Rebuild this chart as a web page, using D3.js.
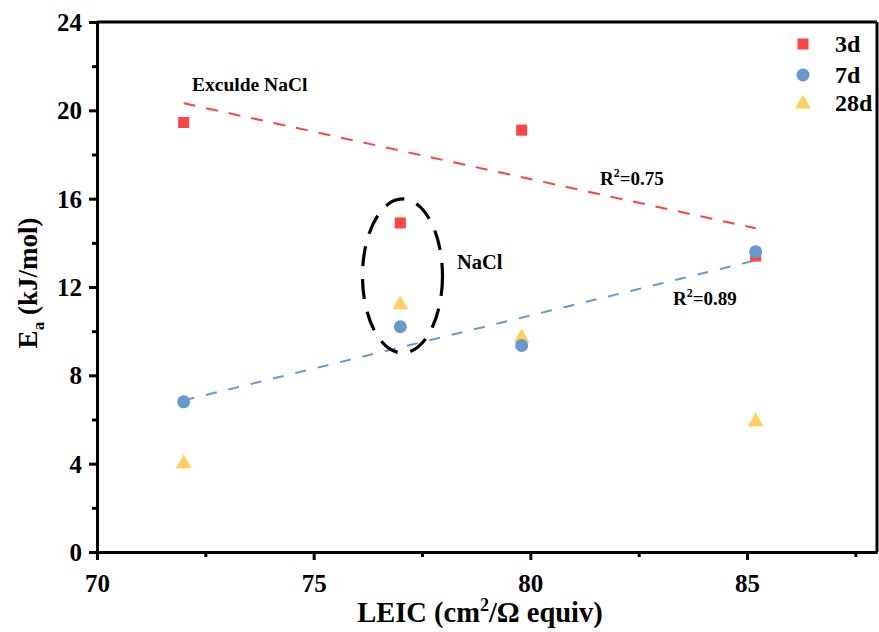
<!DOCTYPE html>
<html>
<head>
<meta charset="utf-8">
<script src="https://cdn.jsdelivr.net/npm/d3@7"></script>
<style>
  html, body { margin: 0; padding: 0; background: #fff; }
  svg { display: block; }
  svg text { font-family: "Liberation Serif", "Times New Roman", serif !important; font-weight: bold; fill: #000; }
</style>
</head>
<body>
<svg id="chart" width="879" height="632"></svg>
<script>
// LEIC values (cm²/Ω equiv) for the four mixes
const leic = [72, 77, 79.8, 85.2];
// Activation energy Ea (kJ/mol) at each curing age
const ea3d  = [19.45, 14.9, 19.1, 13.4];
const ea7d  = [6.8, 10.2, 9.35, 13.6];
const ea28d = [4.0, 11.2, 9.7, 5.9];
const seriesNames = ["3d", "7d", "28d"];
const seriesColors = ["#FF4343", "#6699CC", "#FFD05A"];
const xTicks = [70, 75, 80, 85];
const yTicks = [0, 4, 8, 12, 16, 20, 24];
const fitLabels = ["R\u00B2=0.75", "R\u00B2=0.89"];

const svg = d3.select("#chart");
const m = { left: 97, right: 877, top: 22, bottom: 552 };

const x = d3.scaleLinear().domain([70, 88]).range([m.left, m.right]);
const y = d3.scaleLinear().domain([0, 24]).range([m.bottom, m.top]);

// Axes with outward major and minor ticks
const axisStyle = g => {
  g.attr("font-family", "Liberation Serif").attr("font-size", 25);
  g.selectAll("path").attr("stroke", "#000").attr("stroke-width", 3);
  g.selectAll("line").attr("stroke", "#000").attr("stroke-width", 3);
  g.selectAll("text").style("font-size", "25px");
};

svg.append("g").attr("transform", `translate(0,${m.bottom})`)
  .call(d3.axisBottom(x).tickValues([72.5, 77.5, 82.5, 87.5]).tickSize(5).tickFormat("").tickSizeOuter(0))
  .call(axisStyle);
const xg = svg.append("g").attr("transform", `translate(0,${m.bottom})`)
  .call(d3.axisBottom(x).tickValues(xTicks).tickSize(8).tickPadding(14).tickSizeOuter(0))
  .call(axisStyle);
xg.selectAll("text").attr("dy", null).attr("y", 40);

svg.append("g").attr("transform", `translate(${m.left},0)`)
  .call(d3.axisLeft(y).tickValues([2, 6, 10, 14, 18, 22]).tickSize(5).tickFormat("").tickSizeOuter(0))
  .call(axisStyle);
svg.append("g").attr("transform", `translate(${m.left},0)`)
  .call(d3.axisLeft(y).tickValues(yTicks).tickSize(8).tickPadding(7).tickSizeOuter(0))
  .call(axisStyle)
  .selectAll("text").attr("dy", "0.34em");

// Top and right frame
svg.append("line").attr("x1", m.left).attr("x2", m.right).attr("y1", m.top).attr("y2", m.top)
  .attr("stroke", "#000").attr("stroke-width", 3);
svg.append("line").attr("x1", m.right).attr("x2", m.right).attr("y1", m.top).attr("y2", m.bottom)
  .attr("stroke", "#000").attr("stroke-width", 3);

// Axis titles
const xt = svg.append("text").attr("x", 480).attr("y", 622)
  .attr("text-anchor", "middle").style("font-size", "28.5px");
xt.append("tspan").text("LEIC (cm");
xt.append("tspan").attr("dy", -11).style("font-size", "18px").text("2");
xt.append("tspan").attr("dy", 11).text("/\u03A9 equiv)");

const yt = svg.append("text").attr("transform", `translate(37,${(m.top + m.bottom) / 2 - 4}) rotate(-90)`)
  .attr("text-anchor", "middle").style("font-size", "27px");
yt.append("tspan").text("E");
yt.append("tspan").attr("dy", 7).style("font-size", "17px").text("a");
yt.append("tspan").attr("dy", -7).text(" (kJ/mol)");

// Least-squares line through given points
function fit(xs, ys) {
  const mx = d3.mean(xs), my = d3.mean(ys);
  let sxy = 0, sxx = 0;
  xs.forEach((v, i) => { sxy += (v - mx) * (ys[i] - my); sxx += (v - mx) * (v - mx); });
  const b = sxy / sxx;
  return v => my + b * (v - mx);
}

// 3d trend excludes the NaCl mix (LEIC 77)
const keep = leic.map((v, i) => i).filter(i => leic[i] !== 77);
const f3 = fit(keep.map(i => leic[i]), keep.map(i => ea3d[i]));
const f7 = fit(leic, ea7d);
const x0 = d3.min(leic), x1 = d3.max(leic);

svg.append("line").attr("x1", x(x0)).attr("y1", y(f3(x0))).attr("x2", x(x1)).attr("y2", y(f3(x1)))
  .attr("stroke", seriesColors[0]).attr("stroke-width", 2).attr("stroke-dasharray", "12,11");
svg.append("line").attr("x1", x(x0)).attr("y1", y(f7(x0))).attr("x2", x(x1)).attr("y2", y(f7(x1)))
  .attr("stroke", seriesColors[1]).attr("stroke-width", 2).attr("stroke-dasharray", "11,12");

// NaCl group outline
svg.append("ellipse").attr("cx", x(77.05)).attr("cy", y(12.5))
  .attr("rx", 40).attr("ry", 77).attr("fill", "none").attr("stroke", "#000")
  .attr("stroke-width", 3.2).attr("stroke-dasharray", "20,13");

// Markers
const sym = [d3.symbolSquare, d3.symbolCircle, d3.symbolTriangle];
const sizes = [121, 133, 110];
const all = [ea3d, ea7d, ea28d];
// draw 28d, then 3d, then 7d so overlaps stack the same way
[2, 0, 1].forEach(s => {
  svg.append("g").selectAll("path").data(leic).join("path")
    .attr("transform", (d, i) => `translate(${x(d)},${y(all[s][i])})`)
    .attr("d", d3.symbol(sym[s], sizes[s]))
    .attr("fill", seriesColors[s]);
});

// Legend
const legY = [44, 75, 104];
seriesNames.forEach((n, i) => {
  svg.append("path").attr("transform", `translate(803,${legY[i]})`)
    .attr("d", d3.symbol(sym[i], sizes[i])).attr("fill", seriesColors[i]);
  svg.append("text").attr("x", 835).attr("y", [52, 83, 111][i]).style("font-size", "24px").text(n);
});

// Annotations
svg.append("text").attr("x", 192).attr("y", 91).style("font-size", "19.5px").text("Exculde NaCl");
svg.append("text").attr("x", 457).attr("y", 269).style("font-size", "20.5px").text("NaCl");
[[600, 185, 0], [673, 305, 1]].forEach(([ax, ay, k]) => {
  const t = svg.append("text").attr("x", ax).attr("y", ay).style("font-size", "19px");
  const parts = fitLabels[k].split("\u00B2");
  t.append("tspan").text(parts[0]);
  t.append("tspan").attr("dy", -8).style("font-size", "12px").text("2");
  t.append("tspan").attr("dy", 8).text(parts[1]);
});
</script>
</body>
</html>
